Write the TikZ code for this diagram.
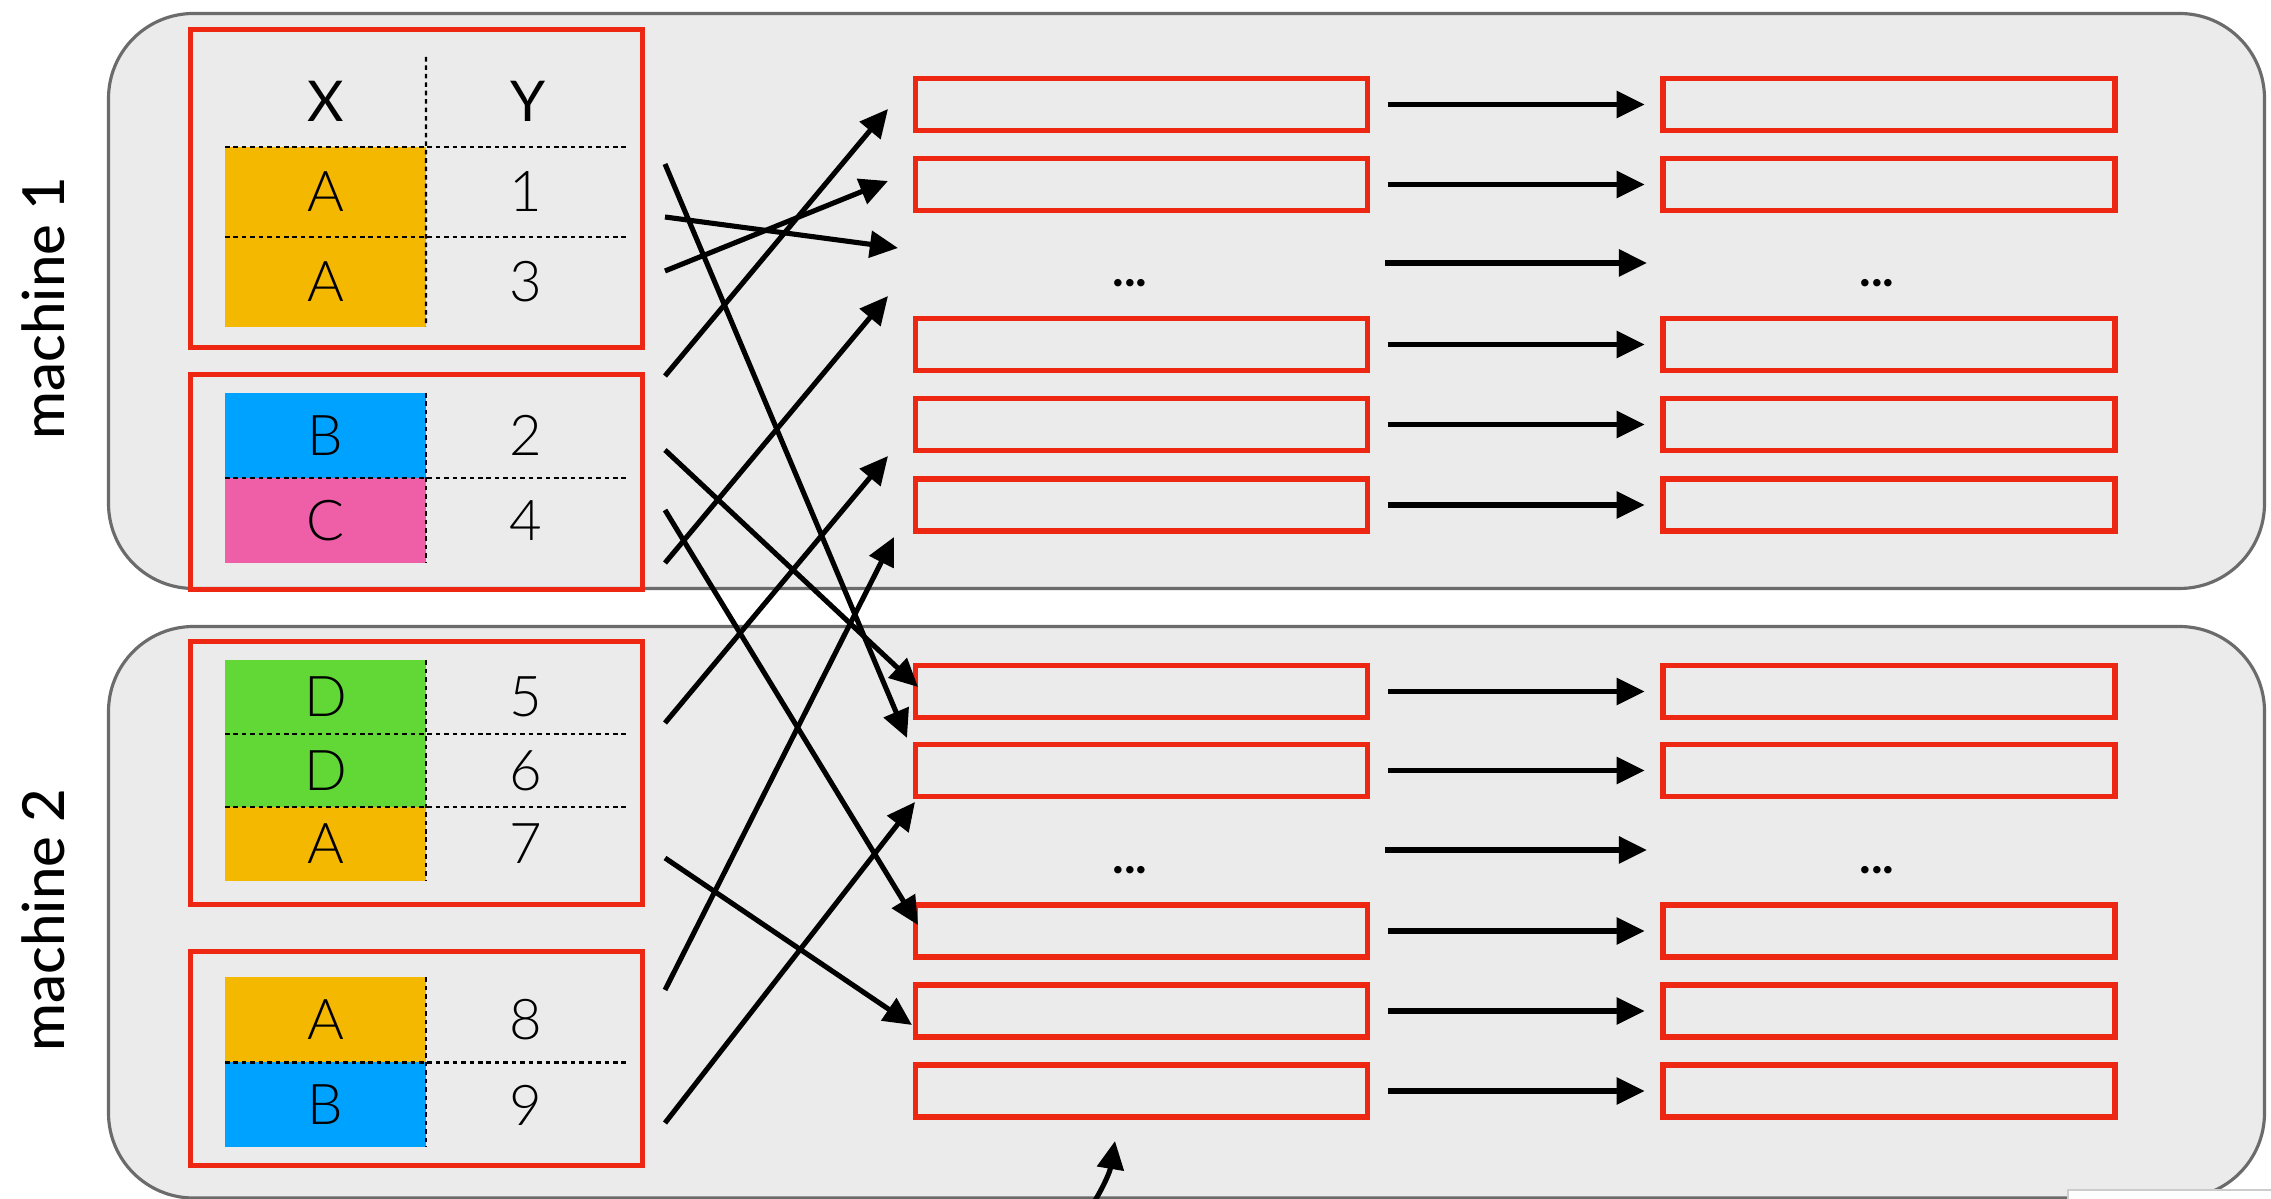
\documentclass[tikz,border=0pt]{standalone}
\usepackage{fontspec}
\setmainfont{Lato}
\IfFontExistsTF{Lato Light}{\newfontfamily\thinfont{Lato Light}}{\newfontfamily\thinfont{Lato}}
\IfFontExistsTF{Lato Medium}{\newfontfamily\midfont{Lato Medium}}{\newfontfamily\midfont{Lato}}
\usepackage{tikz}
\usetikzlibrary{arrows.meta,positioning}

\definecolor{panelgray}{HTML}{EBEBEB}
\definecolor{panelline}{HTML}{6B6B6B}
\definecolor{partred}{HTML}{EE2712}
\definecolor{keyorange}{HTML}{F5B800}
\definecolor{keyblue}{HTML}{00A2FF}
\definecolor{keypink}{HTML}{EE5FA8}
\definecolor{keygreen}{HTML}{61D836}

\newcommand\cellfont{\thinfont\fontsize{16}{19}\selectfont}
\newcommand\headfont{\fontsize{16}{19}\selectfont}
\newcommand\machfont{\midfont\fontsize{16.5}{19}\selectfont}
\newcommand\dotsfont{\bfseries\fontsize{14}{16}\selectfont}

\tikzset{
  machine/.style={fill=panelgray, draw=panelline, line width=0.9pt, rounded corners=0.85cm},
  part/.style={draw=partred, line width=1.6pt},
  slot/.style={draw=partred, line width=1.6pt, minimum width=4.52cm, minimum height=0.52cm, inner sep=0pt},
  keycell/.style={minimum width=2.01cm, inner sep=0pt, outer sep=0pt, font=\cellfont},
  valcell/.style={minimum width=2.0cm, inner sep=0pt, outer sep=0pt, font=\cellfont},
  sep/.style={line width=0.7pt, dash pattern=on 1.3pt off 1.1pt},
  move/.style={-{Triangle[length=8pt,width=7.5pt]}, line width=1.45pt}
}

\begin{document}
\begin{tikzpicture}
\useasboundingbox (0,0) rectangle (22.71,-11.99);

% Machines
\draw[machine] (1.085,-0.135) rectangle (22.645,-5.885);
\draw[machine] (1.085,-6.265) rectangle (22.645,-11.98);
\draw[fill=white, draw=black!20, line width=0.4pt] (20.68,-11.90) rectangle (22.9,-12.3);
\node[rotate=90, font=\machfont] (mach1) at (0.43,-3.08) {machine 1};
\node[rotate=90, font=\machfont] (mach2) at (0.43,-9.20) {machine 2};

% Partitions
\draw[part] (1.905,-0.295) rectangle (6.425,-3.475);
\draw[part] (1.905,-3.745) rectangle (6.425,-5.895);
\draw[part] (1.905,-6.415) rectangle (6.425,-9.045);
\draw[part] (1.905,-9.515) rectangle (6.425,-11.655);

\node[font=\headfont] (hx) at (3.26,-1.01) {X};
\node[font=\headfont] (hy) at (5.28,-1.01) {Y};

\node[keycell, fill=keyorange, minimum height=0.9cm] (x1) at (3.255,-1.92) {A};
\node[keycell, fill=keyorange, minimum height=0.9cm, below=0pt of x1] (x2) {A};
\node[valcell, minimum height=0.9cm, right=0pt of x1] (y1) {1};
\node[valcell, minimum height=0.9cm, right=0pt of x2] (y2) {3};
\draw[sep] (x1.north west) -- (y1.north east);
\draw[sep] (x2.north west) -- (y2.north east);
\draw[sep] (4.26,-0.57) -- (x2.south east);

\node[keycell, fill=keyblue, minimum height=0.85cm] (x3) at (3.255,-4.355) {B};
\node[keycell, fill=keypink, minimum height=0.85cm, below=0pt of x3] (x4) {C};
\node[valcell, minimum height=0.85cm, right=0pt of x3] (y3) {2};
\node[valcell, minimum height=0.85cm, right=0pt of x4] (y4) {4};
\draw[sep] (x4.north west) -- (y4.north east);
\draw[sep] (x3.north east) -- (x4.south east);

\node[keycell, fill=keygreen, minimum height=0.735cm] (x5) at (3.255,-6.97) {D};
\node[keycell, fill=keygreen, minimum height=0.735cm, below=0pt of x5] (x6) {D};
\node[keycell, fill=keyorange, minimum height=0.735cm, below=0pt of x6] (x7) {A};
\node[valcell, minimum height=0.735cm, right=0pt of x5] (y5) {5};
\node[valcell, minimum height=0.735cm, right=0pt of x6] (y6) {6};
\node[valcell, minimum height=0.735cm, right=0pt of x7] (y7) {7};
\draw[sep] (x6.north west) -- (y6.north east);
\draw[sep] (x7.north west) -- (y7.north east);
\draw[sep] (x5.north east) -- (x7.south east);

\node[keycell, fill=keyorange, minimum height=0.85cm] (x8) at (3.255,-10.20) {A};
\node[keycell, fill=keyblue, minimum height=0.85cm, below=0pt of x8] (x9) {B};
\node[valcell, minimum height=0.85cm, right=0pt of x8] (y8) {8};
\node[valcell, minimum height=0.85cm, right=0pt of x9] (y9) {9};
\draw[sep] (x9.north west) -- (y9.north east);
\draw[sep] (x8.north east) -- (x9.south east);

% Shuffled groups and outputs
\foreach \i/\y in {1/1.045,2/1.845,3/3.445,4/4.245,5/5.05,6/6.915,7/7.705,8/9.31,9/10.11,10/10.91}{
  \node[slot] (sh\i) at (11.415,-\y) {};
  \node[slot] (out\i) at (18.89,-\y) {};
  \draw[move] ([xshift=0.175cm]sh\i.east) -- ([xshift=-0.155cm]out\i.west);
}
\node[font=\dotsfont] (dots1) at (11.30,-2.83) {...};
\node[font=\dotsfont] (dots2) at (18.77,-2.83) {...};
\node[font=\dotsfont] (dots3) at (11.30,-8.70) {...};
\node[font=\dotsfont] (dots4) at (18.77,-8.70) {...};
\coordinate (gap1) at (13.85,-2.63);
\coordinate (gap2) at (16.47,-2.63);
\coordinate (gap3) at (13.85,-8.50);
\coordinate (gap4) at (16.47,-8.50);
\draw[move] (gap1) -- (gap2);
\draw[move] (gap3) -- (gap4);

% Connectors
\foreach \i/\sy/\tx/\ty in {1/1.64/9.07/7.38, 2/2.17/8.98/2.48, 3/2.71/8.88/1.81,
    4/3.76/8.88/1.09, 5/4.50/9.18/6.87, 6/5.10/9.18/9.25, 7/5.63/8.88/2.96,
    8/7.23/8.88/4.56, 9/8.58/9.12/10.25, 10/9.90/8.94/5.37, 11/11.23/9.15/8.02}{
  \coordinate (from\i) at (6.65,-\sy);
  \coordinate (to\i) at (\tx,-\ty);
  \draw[move] (from\i) -- (to\i);
}
\coordinate (from12) at (10.86,-12.15);
\coordinate (to12) at (11.15,-11.41);
\draw[move] (from12) to[bend right=12] (to12);
\end{tikzpicture}
\end{document}
